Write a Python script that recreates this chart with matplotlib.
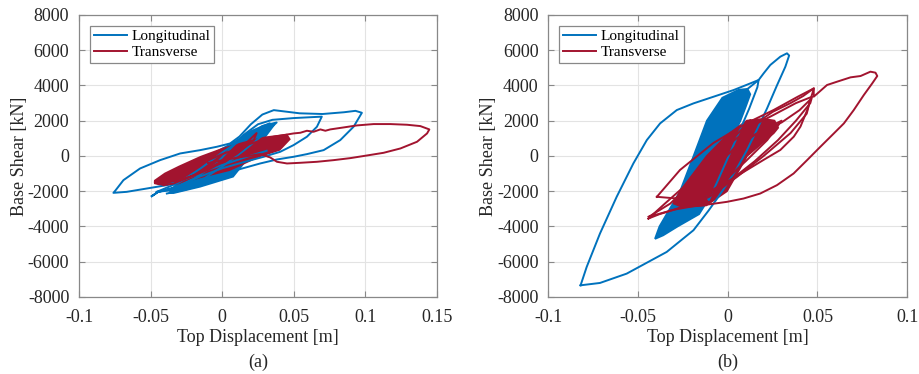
import matplotlib
matplotlib.use('Agg')
import matplotlib.pyplot as plt

plt.rcParams['font.family'] = ['Liberation Serif', 'DejaVu Serif']
plt.rcParams['axes.unicode_minus'] = False

BLUE = '#0072BD'
RED = '#A2142F'

# ---------------- panel (a) ----------------
# longitudinal: dense core outline + main loops (displacement m, shear kN)
a_long_core_x = [-0.037, -0.030, -0.015, 0.0075, 0.020, 0.033, 0.036, 0.030, 0.020, 0.0075, -0.0155, -0.034]
a_long_core_y = [-2100, -1400, -250, 740, 1400, 1850, 1750, 1100, 100, -1170, -1740, -2100]

a_long_loop1_x = [0.031, 0.0172, 0.0032, -0.0108, -0.0247, -0.0387, -0.0527, -0.0667, -0.076,
                  -0.0745, -0.069, -0.0574, -0.0434, -0.0294, -0.0154, -0.0038, 0.0055, 0.012,
                  0.020, 0.028, 0.036, 0.054, 0.070, 0.085, 0.093, 0.0975, 0.0917, 0.0824,
                  0.0708, 0.0591, 0.0498, 0.0382, 0.0265, 0.010, -0.010, -0.025, -0.0387]
a_long_loop1_y = [294, -47, -426, -805, -1278, -1657, -1847, -2036, -2093,
                  -1950, -1373, -710, -237, 142, 331, 521, 710, 1100,
                  1800, 2350, 2600, 2420, 2380, 2480, 2560, 2450, 1657, 900,
                  331, 104, -47, -199, -426, -800, -1400, -1900, -2131]

a_long_loop2_x = [-0.0492, -0.045, -0.035, -0.020, -0.005, 0.015, 0.025, 0.035, 0.050, 0.062,
                  0.0695, 0.0661, 0.0591, 0.0498, 0.0405, 0.0289, 0.015, 0.0, -0.015, -0.030,
                  -0.045, -0.0492]
a_long_loop2_y = [-2282, -2050, -1850, -1300, -500, 1200, 1800, 2050, 2150, 2200,
                  2230, 1657, 1089, 616, 237, -47, -350, -700, -1150, -1700,
                  -2050, -2282]

a_long_loop3_x = [-0.0457, -0.030, -0.015, 0.000, 0.015, 0.028, 0.038, 0.030, 0.015, 0.000, -0.015, -0.030, -0.0457]
a_long_loop3_y = [-2036, -1500, -700, 200, 1000, 1700, 1900, 1300, 300, -600, -1400, -1900, -2036]

# transverse
a_tran_core_x = [-0.047, -0.040, -0.030, -0.015, 0.000, 0.015, 0.030, 0.045, 0.047,
                 0.040, 0.025, 0.005, -0.015, -0.030, -0.042, -0.047]
a_tran_core_y = [-1400, -1000, -600, -50, 400, 750, 1050, 1200, 950,
                 350, -50, -800, -1200, -1550, -1650, -1550]

a_tran_loop1_x = [-0.010, 0.010, 0.0265, 0.0335, 0.0382, 0.0452, 0.0545, 0.0661, 0.0778, 0.0894,
                  0.1011, 0.1127, 0.1244, 0.1360, 0.1430, 0.1446, 0.1383, 0.1290, 0.1174,
                  0.1057, 0.0941, 0.0848, 0.0754, 0.0720, 0.0685, 0.0638, 0.0591, 0.0545,
                  0.0498, 0.0428, 0.0358, 0.020, 0.000, -0.020]
a_tran_loop1_y = [-400, -100, 104, -85, -331, -426, -388, -331, -237, -123,
                  28, 180, 426, 805, 1278, 1506, 1695, 1771, 1809,
                  1809, 1733, 1619, 1506, 1430, 1506, 1373, 1430, 1316,
                  1278, 1184, 1089, 700, 100, -600]

a_tran_loop2_x = [-0.047, -0.041, -0.034, -0.020, 0.000, 0.015, 0.024, 0.022, 0.010, -0.010, -0.030, -0.047]
a_tran_loop2_y = [-1468, -1657, -1563, -1100, -300, 600, 1300, 900, 100, -800, -1400, -1468]

# ---------------- panel (b) ----------------
b_long_core_x = [-0.0405, -0.038, -0.0265, -0.019, -0.0116, -0.003, 0.006, 0.011,
                 0.0125, 0.010, 0.007, -0.002, -0.008, -0.016, -0.028, -0.036]
b_long_core_y = [-4700, -4000, -2000, 0, 2000, 3300, 3750, 3800,
                 3500, 2800, 2000, 0, -2000, -3300, -4000, -4500]

b_long_loop1_x = [-0.082, -0.0786, -0.0712, -0.0619, -0.0526, -0.0451, -0.0377, -0.0284,
                  -0.0191, -0.0079, 0.0033, 0.0126, 0.0172, 0.0200, 0.0237, 0.0293,
                  0.0330, 0.0342, 0.0321, 0.0274, 0.0219, 0.0163, 0.0107, 0.0051,
                  -0.0005, -0.0051, -0.0107, -0.0191, -0.0340, -0.0563, -0.0712, -0.082]
b_long_loop1_y = [-7339, -6297, -4403, -2320, -426, 900, 1847, 2604,
                  2983, 3362, 3741, 4119, 4309, 4688, 5161, 5634,
                  5824, 5700, 5066, 4000, 2700, 1500, 331, -700,
                  -1600, -2300, -3100, -4214, -5445, -6676, -7206, -7339]

b_long_loop2_x = [0.011, 0.0172, 0.0165, 0.012, 0.004, -0.006, -0.0105, -0.012]
b_long_loop2_y = [3800, 4309, 3900, 2700, 800, -1500, -2500, -2300]

b_tran_core_x = [-0.030, -0.0265, -0.0116, 0.000, 0.0107, 0.020, 0.026, 0.028,
                 0.0256, 0.0107, -0.0005, -0.012, -0.025]
b_tran_core_y = [-2700, -2000, 0, 1200, 2000, 2100, 2000, 1600,
                 1300, 0, -2000, -2800, -2900]

b_tran_loop1_x = [-0.0442, -0.035, -0.025, -0.015, -0.005, 0.005, 0.015, 0.025, 0.035, 0.042,
                  0.0479, 0.0479, 0.0553, 0.0609, 0.0684, 0.0740, 0.0795, 0.0823, 0.0833,
                  0.0805, 0.0758, 0.0702, 0.0647, 0.0591, 0.0516, 0.0442, 0.0367, 0.0274,
                  0.0181, 0.0088, -0.0005, -0.0098, -0.0191, -0.030, -0.038, -0.0442]
b_tran_loop1_y = [-3551, -2700, -1800, -800, 200, 1000, 1800, 2500, 3000, 3400,
                  3835, 3362, 4025, 4214, 4460, 4536, 4782, 4725, 4536,
                  4119, 3456, 2604, 1847, 1278, 521, -237, -994, -1657,
                  -2131, -2415, -2604, -2737, -2850, -3050, -3300, -3551]

b_tran_loop2_x = [-0.0395, -0.0266, -0.008, 0.0107, 0.0256, 0.039, 0.048, 0.0443, 0.0405,
                  0.0368, 0.0293, 0.0199, 0.0107, 0.0014, -0.008, -0.0172, -0.030, -0.0395]
b_tran_loop2_y = [-2318, -795, 736, 1870, 2610, 3362, 3836, 2610, 1663,
                  1096, 340, -227, -795, -1362, -1930, -2318, -2400, -2318]

b_tran_loop3_x = [-0.044, -0.032, -0.020, -0.008, 0.004, 0.0126, 0.0135, 0.025, 0.038, 0.047,
                  0.046, 0.038, 0.028, 0.015, 0.000, -0.015, -0.030, -0.044]
b_tran_loop3_y = [-3450, -2700, -1500, -200, 1100, 2036, 1700, 2300, 3000, 3362,
                  3000, 2000, 900, -300, -1500, -2500, -3050, -3450]

b_tran_loop4_x = [-0.030, -0.015, 0.000, 0.015, 0.030, 0.040, 0.046, 0.044, 0.035, 0.020, 0.005, -0.010, -0.020, -0.030]
b_tran_loop4_y = [-2600, -1200, 100, 1200, 1900, 2600, 3200, 2400, 1300, 0, -1200, -2300, -2800, -2600]

b_tran_loop5_x = [-0.025, -0.010, 0.005, 0.020, 0.030, 0.022, 0.010, -0.005, -0.020, -0.025]
b_tran_loop5_y = [-2800, -1000, 600, 1500, 2000, 900, -300, -1700, -2700, -2800]


def style_axes(ax, xlim, xticks, tag):
    ax.set_xlim(xlim)
    ax.set_ylim(-8000, 8000)
    ax.set_xticks(xticks)
    ax.set_xticklabels([('%g' % t) for t in xticks])
    ax.set_yticks(range(-8000, 8001, 2000))
    ax.grid(True, color='#e3e3e3', linewidth=0.8)
    ax.set_axisbelow(True)
    for s in ax.spines.values():
        s.set_color('#888888')
        s.set_linewidth(0.9)
    ax.tick_params(direction='in', top=True, right=True, length=4,
                   color='#888888', labelsize=13, labelcolor='#262626')
    ax.tick_params(axis='x', pad=9)
    ax.tick_params(axis='y', pad=7)
    ax.set_ylabel('Base Shear [kN]', fontsize=13, color='#262626', labelpad=0)
    ax.set_xlabel('Top Displacement [m]', fontsize=13, color='#262626', labelpad=2)
    ax.text(0.5, -0.232, tag, transform=ax.transAxes, ha='center', va='center',
            fontsize=13, color='#262626')
    leg = ax.legend(loc='upper left', fontsize=11, handlelength=2.2, handletextpad=0.3,
                    borderpad=0.25, labelspacing=0.15, fancybox=False, framealpha=1,
                    borderaxespad=0.7)
    leg.get_frame().set_edgecolor('#888888')
    leg.get_frame().set_linewidth(0.9)


fig = plt.figure(figsize=(9.19, 3.74), dpi=100)
ax1 = fig.add_axes([0.086, 0.206, 0.3896, 0.754])
ax2 = fig.add_axes([0.5966, 0.206, 0.3906, 0.754])

lw = 1.4
# panel (a)
ax1.fill(a_long_core_x, a_long_core_y, color=BLUE, lw=lw)
ax1.plot(a_long_loop1_x, a_long_loop1_y, color=BLUE, lw=lw, label='Longitudinal')
ax1.plot(a_long_loop2_x, a_long_loop2_y, color=BLUE, lw=lw)
ax1.plot(a_long_loop3_x, a_long_loop3_y, color=BLUE, lw=lw)
ax1.fill(a_tran_core_x, a_tran_core_y, color=RED, lw=lw)
ax1.plot(a_tran_loop1_x, a_tran_loop1_y, color=RED, lw=lw, label='Transverse')
ax1.plot(a_tran_loop2_x, a_tran_loop2_y, color=RED, lw=lw)
style_axes(ax1, (-0.1, 0.15), [-0.1, -0.05, 0, 0.05, 0.1, 0.15], '(a)')

# panel (b)
ax2.fill(b_long_core_x, b_long_core_y, color=BLUE, lw=lw)
ax2.plot(b_long_loop1_x, b_long_loop1_y, color=BLUE, lw=lw, label='Longitudinal')
ax2.plot(b_long_loop2_x, b_long_loop2_y, color=BLUE, lw=lw)
ax2.fill(b_tran_core_x, b_tran_core_y, color=RED, lw=lw)
ax2.plot(b_tran_loop1_x, b_tran_loop1_y, color=RED, lw=lw, label='Transverse')
ax2.plot(b_tran_loop2_x, b_tran_loop2_y, color=RED, lw=lw)
ax2.plot(b_tran_loop3_x, b_tran_loop3_y, color=RED, lw=lw)
ax2.plot(b_tran_loop4_x, b_tran_loop4_y, color=RED, lw=lw)
ax2.plot(b_tran_loop5_x, b_tran_loop5_y, color=RED, lw=lw)
style_axes(ax2, (-0.1, 0.1), [-0.1, -0.05, 0, 0.05, 0.1], '(b)')

plt.savefig('out.png', dpi=100)
